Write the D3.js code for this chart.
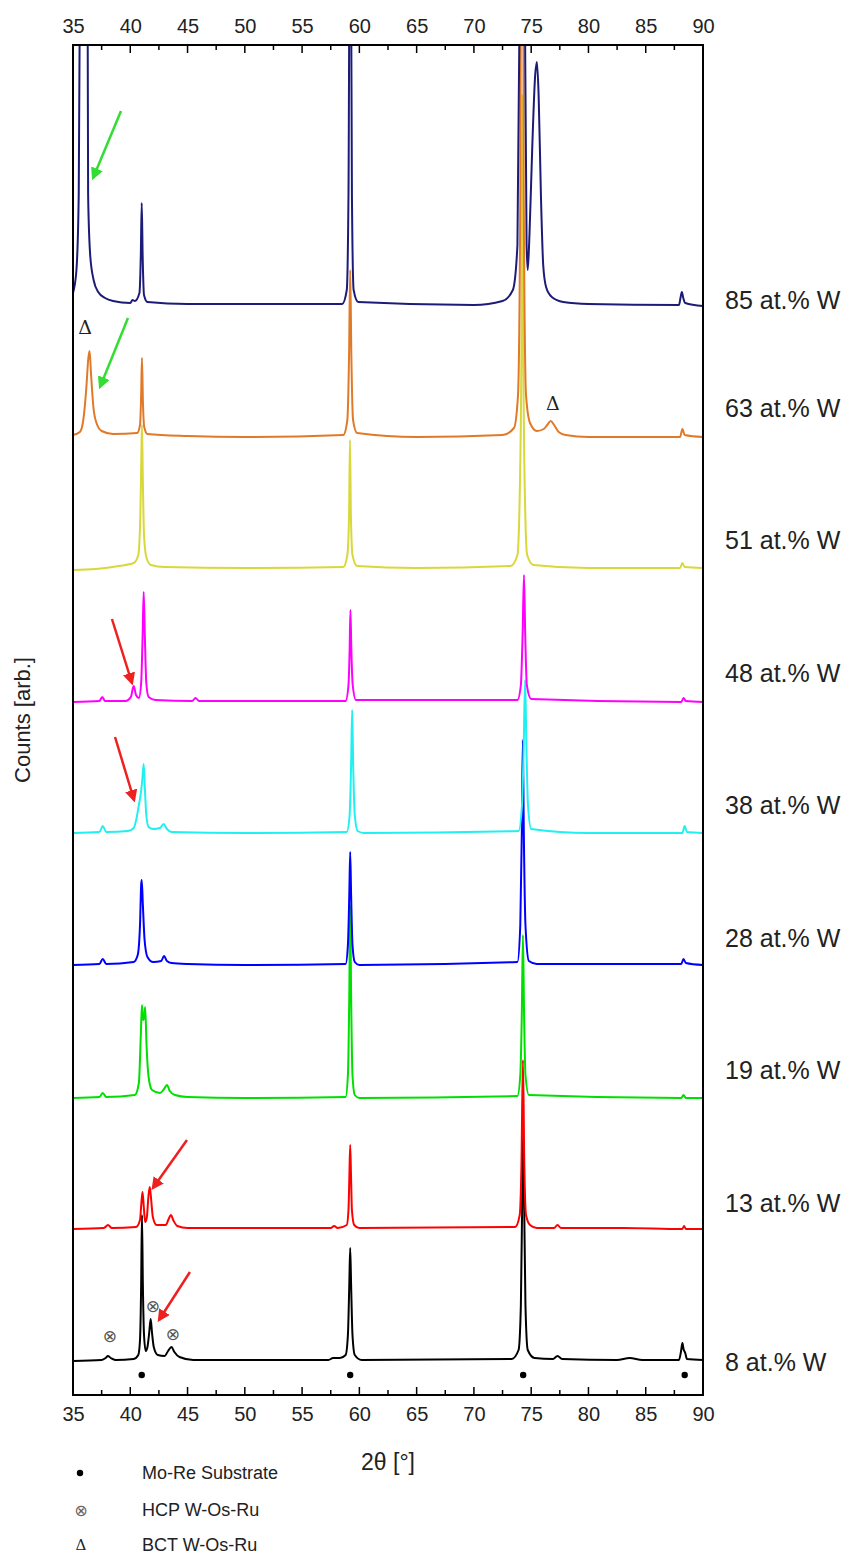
<!DOCTYPE html>
<html>
<head>
<meta charset="utf-8">
<script src="https://cdn.jsdelivr.net/npm/d3@7"></script>
<style>
  body { margin: 0; background: #fff; }
  text { font-family: "Liberation Sans", Arial, sans-serif; }
</style>
</head>
<body>
<div id="chart"></div>
<script>
// sample names, colours and label heights (arb. counts)
const samples = ['8 at.% W', '13 at.% W', '19 at.% W', '28 at.% W', '38 at.% W', '48 at.% W', '51 at.% W', '63 at.% W', '85 at.% W'];
const colors = ['#000000', '#ff0000', '#00e000', '#0000ff', '#20f0f0', '#ff00ff', '#d8d83a', '#e07a28', '#1c1c78'];
const labelY = [33, 192, 325, 457, 590, 722, 855, 987, 1095];

// patterns: [2theta, counts (offset included)]
const w8 = [[35,34],[37.5,35],[37.85,37],[38.05,39],[38.3,37],[38.7,35],[40.3,36],[40.7,40],[40.85,55],[40.95,110],[41.02,180],[41.1,110],[41.2,60],[41.35,44],[41.5,48],[41.65,62],[41.78,76],[41.9,62],[42.05,48],[42.4,40],[43.0,39],[43.3,44],[43.6,48],[43.85,43],[44.3,38],[45.5,35],[57.3,35],[57.7,37],[58.3,37],[58.8,40],[59.0,60],[59.12,110],[59.2,147],[59.28,110],[59.4,60],[59.6,40],[60.2,35],[73.3,36],[73.9,45],[74.1,90],[74.22,200],[74.3,265],[74.38,200],[74.5,90],[74.7,45],[75.3,37],[76.9,36],[77.3,39],[77.7,36],[82.5,35],[83.6,37],[84.7,35],[87.9,35],[88.1,45],[88.2,52],[88.3,46],[88.45,42],[88.6,36],[90,35]];
const w13 = [[35,166],[37.7,167],[38.05,170],[38.4,167],[40.5,168],[40.85,175],[40.97,192],[41.07,203],[41.18,188],[41.3,173],[41.45,178],[41.58,198],[41.7,208],[41.82,196],[41.97,178],[42.3,170],[43.1,170],[43.35,176],[43.55,180],[43.75,175],[44.1,169],[45,167],[57.5,167],[57.8,169],[58.1,167],[58.9,170],[59.05,185],[59.13,220],[59.2,250],[59.27,220],[59.35,185],[59.55,170],[60,167],[73.6,168],[74.0,180],[74.15,230],[74.28,335],[74.4,230],[74.55,180],[74.9,170],[75.5,167],[77.0,167],[77.3,170],[77.6,167],[83,167],[88.2,166],[88.35,169],[88.5,166],[90,166]];
const w19 = [[35,297],[37.3,298],[37.6,302],[37.9,298],[40.4,300],[40.75,312],[40.92,360],[41.02,390],[41.12,375],[41.22,378],[41.3,388],[41.42,350],[41.6,318],[41.9,305],[42.6,302],[42.95,306],[43.2,310],[43.45,304],[43.9,300],[45,298],[50,297],[58.8,298],[59.0,320],[59.12,400],[59.2,490],[59.28,400],[59.4,320],[59.6,300],[60,297],[73.8,299],[74.05,320],[74.18,380],[74.28,460],[74.38,380],[74.5,320],[74.8,300],[88.1,297],[88.3,300],[88.5,297],[90,297]];
const w28 = [[35,430],[37.3,431],[37.6,436],[37.9,431],[40.3,433],[40.65,440],[40.85,470],[40.95,510],[41.0,515],[41.1,490],[41.25,455],[41.5,438],[42.0,433],[42.7,434],[42.95,439],[43.2,434],[43.6,432],[45,431],[50,430],[58.8,431],[59.0,450],[59.12,500],[59.2,543],[59.28,500],[59.4,450],[59.6,433],[60,430],[73.8,433],[74.05,470],[74.18,560],[74.27,655],[74.36,560],[74.5,470],[74.8,434],[75.5,431],[83.5,431],[88.1,431],[88.3,436],[88.5,432],[90,430]];
const w38 = [[35,562],[37.3,563],[37.6,569],[37.9,563],[39.8,564],[40.3,567],[40.55,577],[40.75,590],[40.9,600],[41.05,615],[41.17,631],[41.28,605],[41.4,580],[41.6,568],[42.0,566],[42.6,567],[42.9,571],[43.2,566],[43.6,563],[50,562],[58.9,563],[59.15,580],[59.28,630],[59.37,685],[59.46,630],[59.6,580],[59.85,564],[60.4,562],[73.9,564],[74.2,590],[74.35,650],[74.47,715],[74.58,650],[74.72,590],[75.0,566],[80,562],[88.2,562],[88.4,569],[88.6,563],[90,562]];
const w48 = [[35,693],[37.3,694],[37.55,698],[37.8,694],[39.6,694],[40.05,698],[40.3,709],[40.5,700],[40.75,697],[40.95,712],[41.08,760],[41.17,803],[41.27,760],[41.4,712],[41.6,698],[42.2,695],[45.4,694],[45.7,697],[46.0,694],[58.8,694],[59.05,710],[59.15,745],[59.22,785],[59.3,745],[59.42,710],[59.7,695],[73.8,695],[74.1,710],[74.25,760],[74.37,820],[74.48,760],[74.62,710],[75,696],[88.1,693],[88.3,697],[88.5,694],[90,693]];
const w51 = [[35,825],[37,826],[39,829],[40.3,832],[40.7,840],[40.88,880],[40.97,940],[41.02,970],[41.09,920],[41.2,860],[41.4,838],[41.8,830],[43,828],[50,827],[58.6,828],[58.95,840],[59.1,880],[59.18,955],[59.26,880],[59.4,840],[59.8,829],[65,827],[73.2,829],[73.8,840],[74.0,900],[74.15,1050],[74.23,1300],[74.31,1050],[74.45,900],[74.65,840],[75.2,830],[80,827],[88.0,827],[88.2,832],[88.4,828],[90,827]];
const w63 = [[35,960],[35.6,963],[35.9,975],[36.15,1005],[36.35,1038],[36.45,1044],[36.58,1020],[36.78,988],[37.05,972],[37.5,964],[38.5,961],[40.6,962],[40.85,970],[40.95,1000],[41.02,1037],[41.1,995],[41.22,968],[41.5,961],[45,959],[50,958],[58.6,960],[58.95,975],[59.1,1040],[59.2,1125],[59.3,1040],[59.45,975],[59.8,962],[65,958],[72.5,960],[73.5,967],[73.85,1000],[74.05,1200],[74.2,2000],[74.35,1200],[74.55,1000],[74.9,972],[75.5,964],[76.1,966],[76.4,970],[76.7,974],[77.0,970],[77.4,963],[78,960],[80,958],[88.0,958],[88.2,966],[88.4,960],[90,958]];
const w85 = [[35,1102],[35.3,1125],[35.5,1200],[35.7,1600],[35.85,2600],[36.15,2600],[36.25,1500],[36.32,1200],[36.5,1140],[36.8,1115],[37.2,1103],[37.8,1097],[38.5,1094],[40.0,1092],[40.2,1095],[40.4,1094],[40.8,1102],[40.92,1140],[41.0,1192],[41.08,1140],[41.2,1100],[41.5,1093],[45,1091],[58.5,1091],[58.9,1105],[59.05,1200],[59.2,1600],[59.35,1200],[59.5,1105],[59.9,1093],[70,1090],[72.5,1094],[73.4,1105],[73.8,1150],[74.0,1400],[74.2,2000],[74.45,1400],[74.6,1150],[74.7,1125],[74.85,1160],[75.1,1250],[75.35,1320],[75.5,1333],[75.65,1300],[75.85,1200],[76.05,1130],[76.3,1108],[76.8,1098],[77.8,1093],[80,1091],[87.9,1090],[88.05,1098],[88.15,1103],[88.28,1097],[88.45,1092],[90,1089]];
const patterns = [w8, w13, w19, w28, w38, w48, w51, w63, w85];

// phase markers
const substrate = [41.0, 59.2, 74.3, 88.4];
const hcp = [[38.23, 59], [41.98, 89], [43.73, 61]];
const bct = [[36.05, 1068], [76.9, 992]];
// arrows: [x1, y1, x2, y2, colour]
const arrows = [
  [39.19, 1284, 36.75, 1217, '#33dd33'],
  [39.80, 1077, 37.36, 1008, '#33dd33'],
  [38.40, 776, 40.15, 712, '#ee2020'],
  [38.67, 658, 40.33, 595, '#ee2020'],
  [44.95, 255, 41.98, 207, '#ee2020'],
  [45.21, 123, 42.51, 75, '#ee2020']
];
const xTicks = [35, 40, 45, 50, 55, 60, 65, 70, 75, 80, 85, 90];
const legendItems = ['Mo-Re Substrate', 'HCP W-Os-Ru', 'BCT W-Os-Ru'];

const W = 858, H = 1555;
const margin = {left: 73, right: 155, top: 45, bottom: 160};
const svg = d3.select('#chart').append('svg').attr('width', W).attr('height', H);

const x = d3.scaleLinear().domain([35, 90]).range([margin.left, W - margin.right]);
const y = d3.scaleLinear().domain([0, 1350]).range([H - margin.bottom, margin.top]);

const defs = svg.append('defs');
defs.append('clipPath').attr('id', 'clip')
  .append('rect').attr('x', x(35)).attr('y', y(1350)).attr('width', x(90) - x(35)).attr('height', y(0) - y(1350));

const line = d3.line().curve(d3.curveMonotoneX).x(d => x(d[0])).y(d => y(d[1]));

const plot = svg.append('g').attr('clip-path', 'url(#clip)');
patterns.forEach(function(p, i) {
  plot.append('path').datum(p)
    .attr('d', line)
    .style('fill', 'none')
    .style('stroke', colors[i])
    .style('stroke-width', 2)
    .style('stroke-linejoin', 'round');
});

// axes
const axisB = d3.axisBottom(x).tickValues(xTicks).tickSize(0).tickPadding(12);
const axisT = d3.axisTop(x).tickValues(xTicks).tickSize(0).tickPadding(12);
const gb = svg.append('g').attr('transform', 'translate(0,' + y(0) + ')').call(axisB);
const gt = svg.append('g').attr('transform', 'translate(0,' + y(1350) + ')').call(axisT);
[gb, gt].forEach(function(g) {
  g.select('.domain').remove();
  g.selectAll('text').style('font-size', '20px').style('fill', '#222');
});
// inward ticks, major and minor
const minor = d3.range(37.5, 90, 5);
[[y(0), -1], [y(1350), 1]].forEach(function(s) {
  svg.selectAll(null).data(xTicks.concat(minor)).enter().append('line')
    .attr('x1', d => x(d)).attr('x2', d => x(d))
    .attr('y1', s[0])
    .attr('y2', d => s[0] + s[1] * (xTicks.includes(d) ? 8 : 5))
    .style('stroke', '#000').style('stroke-width', 1.5);
});
svg.append('rect')
  .attr('x', x(35)).attr('y', y(1350)).attr('width', x(90) - x(35)).attr('height', y(0) - y(1350))
  .style('fill', 'none').style('stroke', '#000').style('stroke-width', 2);

// markers
svg.selectAll('.sub').data(substrate).enter().append('circle')
  .attr('cx', d => x(d)).attr('cy', y(20)).attr('r', 3.2).style('fill', '#000');
svg.selectAll('.hcp').data(hcp).enter().append('text')
  .attr('x', d => x(d[0])).attr('y', d => y(d[1]))
  .attr('text-anchor', 'middle').attr('dominant-baseline', 'central')
  .style('font-family', 'DejaVu Sans').style('font-size', '17px').style('fill', '#555')
  .text('\u2297');
svg.selectAll('.bct').data(bct).enter().append('text')
  .attr('x', d => x(d[0])).attr('y', d => y(d[1]))
  .attr('text-anchor', 'middle').attr('dominant-baseline', 'central')
  .style('font-family', 'DejaVu Serif').style('font-size', '19px').style('fill', '#222')
  .text('\u0394');

// arrows
arrows.forEach(function(a, i) {
  defs.append('marker').attr('id', 'ah' + i)
    .attr('viewBox', '0 0 10 10').attr('refX', 8).attr('refY', 5)
    .attr('markerWidth', 5).attr('markerHeight', 5).attr('orient', 'auto')
    .append('path').attr('d', 'M0,0 L10,5 L0,10 Z').style('fill', a[4]);
  svg.append('line')
    .attr('x1', x(a[0])).attr('y1', y(a[1])).attr('x2', x(a[2])).attr('y2', y(a[3]))
    .style('stroke', a[4]).style('stroke-width', 2.5)
    .attr('marker-end', 'url(#ah' + i + ')');
});

// sample labels
svg.selectAll('.lab').data(samples).enter().append('text')
  .attr('x', x(90) + 22).attr('y', (d, i) => y(labelY[i]))
  .attr('dominant-baseline', 'central')
  .style('font-size', '25px').style('fill', '#222')
  .text(d => d);

// axis titles
svg.append('text')
  .attr('x', (x(35) + x(90)) / 2).attr('y', y(0) + 75)
  .attr('text-anchor', 'middle')
  .style('font-size', '23px').style('fill', '#222')
  .text('2\u03b8 [\u00b0]');
svg.append('text')
  .attr('transform', 'translate(30,' + y(675) + ') rotate(-90)')
  .attr('text-anchor', 'middle')
  .style('font-size', '22px').style('fill', '#222')
  .text('Counts [arb.]');

// legend
const legY = [1473, 1510, 1545];
const lg = svg.append('g');
legendItems.forEach(function(t, i) {
  const g = lg.append('g').attr('transform', 'translate(0,' + legY[i] + ')');
  if (i === 0) g.append('circle').attr('cx', 80).attr('cy', 0).attr('r', 3.2).style('fill', '#000');
  else g.append('text').attr('x', 81).attr('y', 0).attr('text-anchor', 'middle').attr('dominant-baseline', 'central')
    .style('font-family', i === 1 ? 'DejaVu Sans' : 'DejaVu Serif')
    .style('font-size', i === 1 ? '16px' : '15px').style('fill', i === 1 ? '#666' : '#222')
    .text(i === 1 ? '\u2297' : '\u0394');
  g.append('text').attr('x', 142).attr('y', 0).attr('dominant-baseline', 'central')
    .style('font-size', '18px').style('fill', '#222').text(t);
});
</script>
</body>
</html>
